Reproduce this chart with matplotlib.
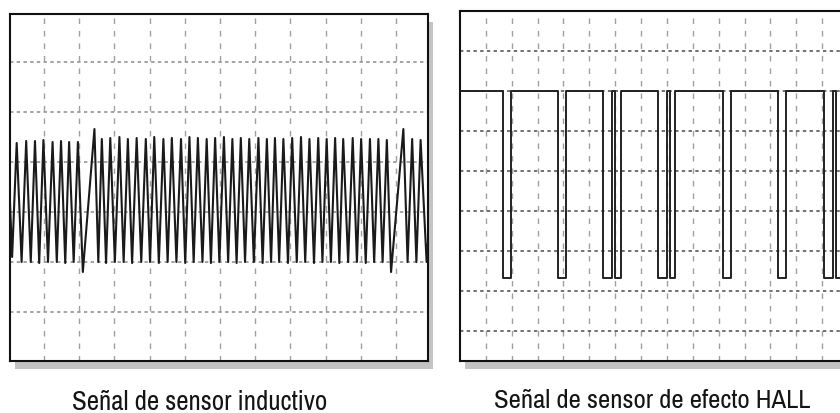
import matplotlib
matplotlib.use("Agg")
from matplotlib import pyplot as plt
from matplotlib.patches import Rectangle

"""
    Datos: sensor inductivo (unidades de la cuadricula)
"""
ind_peak_x = [0.22, 0.49, 0.74, 0.98, 1.24, 1.48, 1.71, 1.96,
              2.43, 2.64, 2.88, 3.14, 3.38, 3.63, 3.89, 4.13, 4.39, 4.63,
              4.89, 5.13, 5.37, 5.62, 5.86, 6.11, 6.35, 6.59, 6.83, 7.09,
              7.33, 7.56, 7.80, 8.05, 8.30, 8.54, 8.79, 9.03, 9.27, 9.50,
              9.77, 10.01, 10.26, 10.50, 10.74,
              11.21, 11.46, 11.70]
ind_peak_y = [4.38, 4.42, 4.42, 4.44, 4.40, 4.42, 4.40, 4.40,
              4.66, 4.46, 4.48, 4.50, 4.46, 4.48, 4.46, 4.50, 4.46, 4.48,
              4.46, 4.50, 4.48, 4.46, 4.48, 4.50, 4.46, 4.48, 4.46, 4.48,
              4.46, 4.48, 4.46, 4.48, 4.50, 4.46, 4.48, 4.46, 4.48, 4.46,
              4.48, 4.46, 4.46, 4.46, 4.44,
              4.66, 4.46, 4.44]
ind_trough_x = [0.03, 0.09, 0.36, 0.62, 0.86, 1.11, 1.36, 1.60, 1.84,
                2.10, 2.54, 2.76, 3.01, 3.26, 3.50, 3.76, 4.01, 4.26, 4.51,
                4.76, 5.01, 5.25, 5.50, 5.74, 5.98, 6.23, 6.47, 6.71, 6.96,
                7.21, 7.45, 7.68, 7.93, 8.18, 8.42, 8.67, 8.91, 9.15, 9.39,
                9.64, 9.89, 10.14, 10.38, 10.62, 10.86, 11.33, 11.58, 11.87, 11.91]
ind_trough_y = [3.20, 2.10, 2.00, 2.00, 1.98, 2.00, 2.00, 1.98, 2.00,
                1.80, 2.00, 1.98, 2.00, 2.00, 1.98, 2.00, 2.00, 1.98, 2.00,
                2.00, 1.98, 2.00, 2.00, 1.98, 2.00, 2.00, 1.98, 2.00, 2.00,
                1.98, 2.00, 2.00, 1.98, 2.00, 2.00, 1.98, 2.00, 2.00, 1.98,
                2.00, 2.00, 1.98, 2.00, 2.00, 1.80, 2.00, 2.00, 2.00, 2.40]

"""
    Datos: sensor de efecto HALL (flancos de bajada / subida)
"""
hall_fall = [1.65, 3.80, 5.53, 6.00, 7.66, 8.11, 10.16, 12.29, 14.06, 14.52]
hall_rise = [1.96, 4.09, 5.87, 6.21, 8.01, 8.30, 10.49, 12.59, 14.42, 15.20]
hall_high = 6.0
hall_low = 1.32

captions = ["Señal de sensor inductivo", "Señal de sensor de efecto HALL"]

W, H = 840, 414
fig = plt.figure(figsize=(W / 100, H / 100), dpi=100)
fig.patch.set_facecolor("white")


def frame(px_left, px_bottom, px_w, px_h):
    # sombra gris detras del marco
    fig.patches.append(Rectangle(((px_left + 5) / W, (px_bottom - 8) / H),
                                 px_w / W, px_h / H, transform=fig.transFigure,
                                 facecolor="#c4c4c4", edgecolor="none", zorder=0))
    ax = fig.add_axes([px_left / W, px_bottom / H, px_w / W, px_h / H])
    ax.set_facecolor("white")
    ax.set_zorder(1)
    for s in ax.spines.values():
        s.set_linewidth(1.5)
        s.set_color("#111111")
    ax.set_xticks([])
    ax.set_yticks([])
    return ax


def grid(ax, xs, ys, hcol):
    for x in xs:
        ax.axvline(x, color="#a0a0a0", lw=1.0, dashes=(4, 5), zorder=1)
    for y in ys:
        ax.axhline(y, color=hcol, lw=1.1, dashes=(2.2, 2.2), zorder=1)


# panel izquierdo
ax1 = frame(10, 52, 418, 347)
ax1.set_xlim(0.03, 11.91)
ax1.set_ylim(0.02, 6.96)
grid(ax1, range(1, 12), range(1, 7), "#8a8a8a")
pts = sorted(list(zip(ind_peak_x, ind_peak_y)) + list(zip(ind_trough_x, ind_trough_y)))
ax1.plot([p[0] for p in pts], [p[1] for p in pts], color="#1a1a1a", lw=1.5, zorder=3)

# panel derecho (sale por la derecha de la imagen)
ax2 = frame(460, 52, 388, 350)
ax2.set_xlim(0, 15)
ax2.set_ylim(-0.74, 7.99)
grid(ax2, range(1, 15), range(0, 8), "#4a4a4a")
hx = [0.0]
hy = [hall_high]
for f, r in zip(hall_fall, hall_rise):
    hx += [f, f, r, r]
    hy += [hall_high, hall_low, hall_low, hall_high]
ax2.plot(hx, hy, color="#222222", lw=1.4, zorder=3)

fam = ["Archivo Narrow", "Liberation Sans Narrow", "DejaVu Sans"]
t1 = fig.text(200 / W, 4 / H, captions[0], ha="center", va="baseline",
              fontsize=18, family=fam, weight="semibold", color="#141414")
t2 = fig.text(652 / W, 6 / H, captions[1], ha="center", va="baseline",
              fontsize=18, family=fam, weight="semibold", color="#141414")

# ajustar el tamano para igualar el ancho de los rotulos
r = fig.canvas.get_renderer()
for t, target in ((t1, 255), (t2, 315)):
    w = t.get_window_extent(r).width
    t.set_fontsize(18 * target / w)

fig.savefig("out.png", dpi=100)
